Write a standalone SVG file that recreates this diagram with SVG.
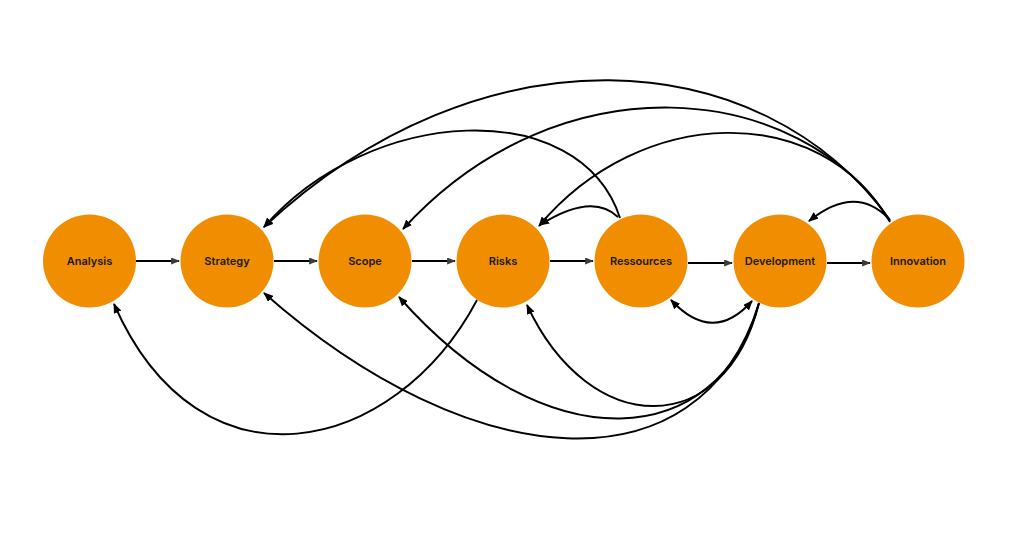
<svg xmlns="http://www.w3.org/2000/svg" width="1022" height="537" viewBox="0 0 1022 537">
<defs>
<style>
.node circle{fill:#F08D00;}
.node text{font-family:Inter,"Noto Sans","Liberation Sans",sans-serif;font-size:11px;font-weight:600;fill:#1a1a1a;text-anchor:middle;dominant-baseline:central;}
.edge{fill:none;stroke:#000;stroke-width:1.9;marker-end:url(#ah);}
.straight{fill:none;stroke:#000;stroke-width:1.9;marker-end:url(#ahs);}
</style>
<marker id="ah" viewBox="0 0 10 8" refX="9" refY="4" markerWidth="10" markerHeight="8" markerUnits="userSpaceOnUse" orient="auto-start-reverse">
<path d="M0,0 L10,4 L0,8 z" fill="#000"/>
</marker>
<marker id="ahs" viewBox="0 0 10 8" refX="9" refY="4" markerWidth="9" markerHeight="7" markerUnits="userSpaceOnUse" orient="auto">
<path d="M0,0 L10,4 L0,8 z" fill="#3a3a3a"/>
</marker>
</defs>
<rect width="1022" height="537" fill="#fff"/>
<g id="connectors">
<path class="straight" d="M136,261 L179,261"/>
<path class="straight" d="M274,261 L317,261"/>
<path class="straight" d="M412,261 L455,261"/>
<path class="straight" d="M550,261 L593,261"/>
<path class="straight" d="M688,263 L732,263"/>
<path class="straight" d="M827,263 L870,263"/>
<path class="edge" d="M890,220 C760,40 480,25 264,227"/>
<path class="edge" d="M890,221 C800,80 560,57 403,229"/>
<path class="edge" d="M890,222 C820,100 640,105 539,226"/>
<path class="edge" d="M620,218 C580,95 370,105 264,227"/>
<path class="edge" d="M618,217 Q592,192 540,225"/>
<path class="edge" d="M888,218 Q855,184 809,221"/>
<path class="edge" d="M477,300 C395,455 200,500 114,304"/>
<path class="edge" d="M759,303 C700,495 470,475 264,293"/>
<path class="edge" d="M759,303 C720,450 548,466 399,297"/>
<path class="edge" d="M759,303 C725,440 590,440 527,305"/>
<path class="edge" d="M671,300 Q713,345 752,301" marker-start="url(#ah)"/>
</g>
<g id="node-analysis" class="node"><circle cx="89.5" cy="261" r="46.5"/><text x="89.5" y="261">Analysis</text></g>
<g id="node-strategy" class="node"><circle cx="227" cy="261" r="46.5"/><text x="227" y="261">Strategy</text></g>
<g id="node-scope" class="node"><circle cx="365" cy="261" r="46.5"/><text x="365" y="261">Scope</text></g>
<g id="node-risks" class="node"><circle cx="503" cy="261" r="46.5"/><text x="503" y="261">Risks</text></g>
<g id="node-ressources" class="node"><circle cx="641" cy="261" r="46.5"/><text x="641" y="261">Ressources</text></g>
<g id="node-development" class="node"><circle cx="780" cy="261" r="46.5"/><text x="780" y="261">Development</text></g>
<g id="node-innovation" class="node"><circle cx="918" cy="261" r="46.5"/><text x="918" y="261">Innovation</text></g>
</svg>
